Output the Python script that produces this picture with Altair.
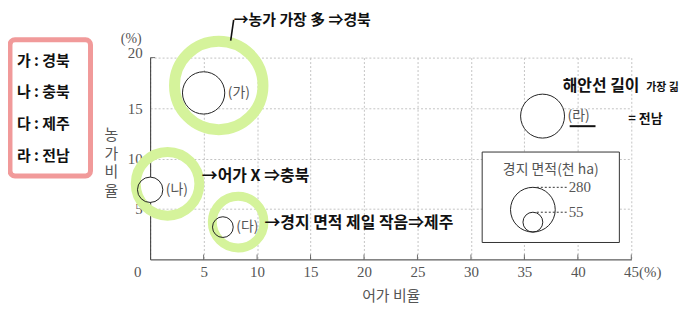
import math
import altair as alt
import pandas as pd

# ---- data ----
regions = ["(가)", "(나)", "(다)", "(라)"]
fishing_share = [5.0, 0.0, 6.8, 36.7]    # 어가 비율 (%)
farm_share = [16.5, 6.9, 3.2, 14.2]      # 농가 비율 (%)
cropland = [250, 90, 60, 270]            # 경지 면적 (천 ha)

x_ticks = [0, 5, 10, 15, 20, 25, 30, 35, 40, 45]
y_ticks = [5, 10, 15, 20]
legend_values = [280, 55]
key_names = ["가 : 경북", "나 : 충북", "다 : 제주", "라 : 전남"]

# ---- layout ----
W, H = 484, 203
OX, OY = 151, 57            # page position of the plot origin (top-left)
R_MAX = 22.5                # radius of the 280 bubble
SIZE_MAX = 280
KR = "Noto Sans CJK KR"
SERIF = "Liberation Serif"
GRAY = "#555555"
INK = "#111111"
RING = "#d5f39b"


def px(x):
    return x - OX


def py(y):
    return y - OY


def radius(v):
    return math.sqrt(v / SIZE_MAX) * R_MAX


size_scale = alt.Scale(domain=[0, SIZE_MAX], range=[0, 4 * R_MAX ** 2])
xscale = alt.Scale(domain=[0, 45], nice=False, zero=False)
yscale = alt.Scale(domain=[0, 20], nice=False, zero=False)

df = pd.DataFrame({"region": regions, "fishing": fishing_share,
                   "farm": farm_share, "area": cropland})
one = pd.DataFrame({"_": [0]})

XAXIS = alt.Axis(
    values=x_ticks, grid=True, gridDash=[2, 2], gridColor="#c4c4c4",
    domainColor="#333333", ticks=False, labelFont=SERIF, labelFontSize=15,
    labelColor=GRAY, labelPadding=5, labelFlush=False,
    labelExpr="datum.value == 45 ? '45(%)' : datum.label",
    labelOffset={"condition": [{"test": "datum.value == 0", "value": -13},
                               {"test": "datum.value == 45", "value": 11}],
                 "value": 0},
    title="어가 비율", titleFont=KR, titleFontSize=15, titleFontWeight="normal",
    titleColor=GRAY, titlePadding=9)
YAXIS = alt.Axis(
    values=y_ticks, grid=True, gridDash=[2, 2], gridColor="#c4c4c4",
    domainColor="#333333", ticks=False, labelFont=SERIF, labelFontSize=15,
    labelColor=GRAY, labelPadding=8, labelFlush=False,
    labelOffset={"condition": {"test": "datum.value == 20", "value": -5}, "value": 0},
    title=None)


def X(field):
    return alt.X(field, scale=xscale, axis=XAXIS)


def Y(field):
    return alt.Y(field, scale=yscale, axis=YAXIS)


# inward ticks
xt = alt.Chart(pd.DataFrame({"fishing": x_ticks[1:]})).mark_tick(
    orient="vertical", size=5, thickness=1, color="#333333").encode(
    x=X("fishing:Q"), y=alt.value(H - 2.5))
yt = alt.Chart(pd.DataFrame({"farm": [20]})).mark_tick(
    orient="horizontal", size=5, thickness=1, color="#333333").encode(
    y=Y("farm:Q"), x=alt.value(2.5))

# bubbles: white fill
fill = alt.Chart(df).mark_point(shape="circle", filled=True, color="white", opacity=1).encode(
    x=X("fishing:Q"), y=Y("farm:Q"),
    size=alt.Size("area:Q", scale=size_scale, legend=None))


# highlighter rings (annotations)
def ring(cx, cy, r, w):
    return alt.Chart(one).mark_point(shape="circle", filled=False, color=RING,
                                      strokeWidth=w, opacity=1).encode(
        x=alt.value(px(cx)), y=alt.value(py(cy)), size=alt.value(4 * r * r))


rings = [ring(220, 85, 44.5, 11), ring(168.5, 184, 32, 10), ring(239.5, 222.5, 26, 9)]

stroke = alt.Chart(df).mark_point(shape="circle", filled=False, color="#222222",
                                  strokeWidth=1, opacity=1).encode(
    x=X("fishing:Q"), y=Y("farm:Q"),
    size=alt.Size("area:Q", scale=size_scale, legend=None))

labels = [
    alt.Chart(df).transform_filter(alt.datum.region == reg).mark_text(
        align="left", baseline="middle", font=KR, fontSize=14, color=GRAY,
        dx=radius(a) + 3).encode(
        x=X("fishing:Q"), y=Y("farm:Q"), text="region:N")
    for reg, a in zip(regions, cropland)
]

# legend box
LB = 233        # page y of the bottom of legend circles
LCX = 536       # page x of legend circles
lbox = alt.Chart(one).mark_rect(fill="white", stroke="#333333", strokeWidth=1).encode(
    x=alt.value(px(485)), x2=alt.value(px(623)), y=alt.value(py(152)), y2=alt.value(py(243)))
ltitle = alt.Chart(one).mark_text(font=KR, fontSize=14, color=GRAY, baseline="middle").encode(
    x=alt.value(px(554)), y=alt.value(py(170)), text=alt.value("경지 면적(천 ha)"))
legend_layers = [lbox, ltitle]
for v in legend_values:
    r = radius(v)
    ytop = LB - 0.5 - 2 * r
    vdf = pd.DataFrame({"v": [v]})
    legend_layers.append(
        alt.Chart(vdf).mark_point(shape="circle", filled=False, color="#222222",
                                  strokeWidth=1, opacity=1).encode(
            x=alt.value(px(LCX)), y=alt.value(py(LB - 0.5 - r)),
            size=alt.Size("v:Q", scale=size_scale, legend=None)))
    legend_layers.append(
        alt.Chart(vdf).mark_rule(color="#333333", strokeDash=[2, 2], strokeWidth=1).encode(
            x=alt.value(px(LCX + 4)), x2=alt.value(px(570)), y=alt.value(py(ytop))))
    legend_layers.append(
        alt.Chart(vdf).mark_text(align="left", baseline="middle", font=SERIF, fontSize=15,
                                 color=GRAY).encode(
            x=alt.value(px(572)), y=alt.value(py(ytop)), text=alt.Text("v:Q", format="d")))

# axis extras
pct = alt.Chart(one).mark_text(font=SERIF, fontSize=14, color=GRAY, baseline="middle").encode(
    x=alt.value(px(132)), y=alt.value(py(38)), text=alt.value("(%)"))
ytitle = alt.Chart(one).mark_text(font=KR, fontSize=15, color=GRAY, baseline="middle",
                                  lineHeight=18.7).encode(
    x=alt.value(px(112)), y=alt.value(py(135)), text=alt.value(["농", "가", "비", "율"]))


# handwritten annotations
def note(x, y, s, size=15, align="left"):
    return alt.Chart(one).mark_text(font=KR, fontSize=size, fontWeight="bold", color=INK,
                                    align=align, baseline="middle").encode(
        x=alt.value(px(x)), y=alt.value(py(y)), text=alt.value(s))


def line(x1, y1, x2, y2, w=1.6):
    return alt.Chart(one).mark_rule(color=INK, strokeWidth=w).encode(
        x=alt.value(px(x1)), y=alt.value(py(y1)), x2=alt.value(px(x2)), y2=alt.value(py(y2)))


notes = [
    line(232, 40, 235, 19),
    note(235, 19, "→농가 가장 多 ⇒경북", 15),
    note(203, 176, "→어가 X ⇒충북", 16),
    note(266, 223, "→경지 면적 제일 작음⇒제주", 16),
    note(566, 86, "해안선 길이", 16),
    note(650, 88, "가장 긺", 11),
    note(632, 119, "= 전남", 13),
    line(573, 126, 599, 126, 2),
]

keybox = alt.Chart(one).mark_rect(fill="white", stroke="#f19a9a", strokeWidth=5,
                                  cornerRadius=5).encode(
    x=alt.value(px(10)), x2=alt.value(px(91)), y=alt.value(py(39)), y2=alt.value(py(176)))
keytext = alt.Chart(one).mark_text(font=KR, fontSize=15, fontWeight="bold", color=INK,
                                   align="left", baseline="middle", lineHeight=32).encode(
    x=alt.value(px(17)), y=alt.value(py(60)), text=alt.value(key_names))

chart = alt.layer(
    xt, yt, fill, *rings, stroke, *labels,
    *legend_layers,
    pct, ytitle, *notes, keybox, keytext,
).properties(
    width=W, height=H,
    padding={"left": OX - 8, "top": OY - 8, "right": 50, "bottom": 48},
    autosize=alt.AutoSizeParams(type="none"),
    background="white",
).configure_view(stroke=None).configure_legend(disable=True)

chart.save("out.html", embed_options={"renderer": "svg", "actions": False})
